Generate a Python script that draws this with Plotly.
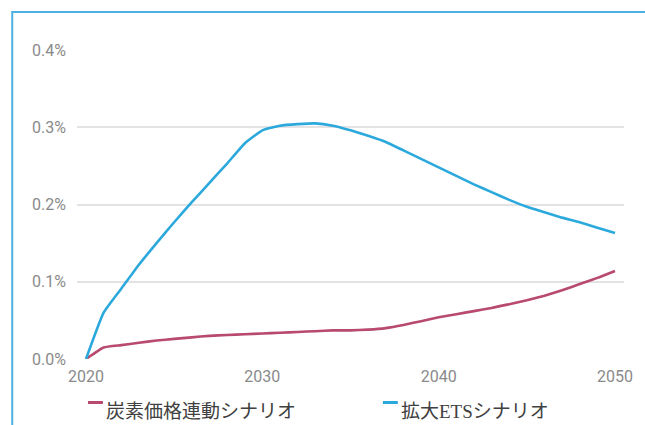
import plotly.graph_objects as go

# Annual series, 2020-2050 (percent)
years = list(range(2020, 2051))

carbon_price_linked = [
    0.000, 0.015, 0.018, 0.021, 0.024, 0.026, 0.028, 0.030, 0.031, 0.032,
    0.033, 0.034, 0.035, 0.036, 0.037, 0.037, 0.038, 0.040, 0.044, 0.049,
    0.054, 0.058, 0.062, 0.066, 0.071, 0.076, 0.082, 0.089, 0.097, 0.105,
    0.114,
]

expanded_ets = [
    0.000, 0.060, 0.091, 0.122, 0.150, 0.177, 0.203, 0.228, 0.253, 0.279,
    0.296, 0.302, 0.304, 0.305, 0.302, 0.296, 0.289, 0.281, 0.270, 0.259,
    0.248, 0.237, 0.226, 0.216, 0.206, 0.197, 0.190, 0.183, 0.177, 0.170,
    0.163,
]

series_names = ["炭素価格連動シナリオ", "拡大ETSシナリオ"]
series_colors = ["#b8496f", "#2ca9dc"]

y_ticks = [0.0, 0.1, 0.2, 0.3, 0.4]
y_tick_labels = ["0.0%", "0.1%", "0.2%", "0.3%", "0.4%"]
x_ticks = [2020, 2030, 2040, 2050]

fig = go.Figure()
for name, color, values in zip(series_names, series_colors,
                               [carbon_price_linked, expanded_ets]):
    fig.add_trace(go.Scatter(
        x=years, y=values, name=name, mode="lines",
        line=dict(color=color, width=2.6, shape="spline", smoothing=0.4),
        cliponaxis=False, showlegend=False,
    ))

W, H = 645, 425
L, R, T, B = 77, 19, 50, 66
pw, ph = W - L - R, H - T - B


def px_x(x):
    return (x - L) / pw


def px_y(y):
    return (H - B - y) / ph


shapes = [
    # outer frame (opens off the right and bottom edges)
    dict(type="rect", xref="paper", yref="paper",
         x0=px_x(12), x1=px_x(W + 20), y0=px_y(H + 20), y1=px_y(12),
         line=dict(color="#4cb1e1", width=2), fillcolor="rgba(0,0,0,0)",
         layer="above"),
]
annotations = []

# legend row beneath the axis
legend_items = [(88, series_names[0], series_colors[0]),
                (384, series_names[1], series_colors[1])]
for x0, name, color in legend_items:
    shapes.append(dict(type="line", xref="paper", yref="paper",
                       x0=px_x(x0), x1=px_x(x0 + 15),
                       y0=px_y(402.5), y1=px_y(402.5),
                       line=dict(color=color, width=3)))
    annotations.append(dict(
        text=name, xref="paper", yref="paper",
        x=px_x(x0 + 16), y=px_y(411), xanchor="left", yanchor="middle",
        showarrow=False,
        font=dict(family="Liberation Serif, Noto Sans CJK JP", size=19,
                  color="#404040"),
    ))

fig.update_layout(
    width=W, height=H,
    margin=dict(l=L, r=R, t=T, b=B, pad=0),
    paper_bgcolor="white", plot_bgcolor="white",
    font=dict(family="Roboto, Open Sans, sans-serif", size=16, color="#8a8a8a"),
    shapes=shapes, annotations=annotations,
    showlegend=False,
)
fig.update_xaxes(
    range=[2019.49, 2050.51], tickvals=x_ticks, ticktext=[str(v) for v in x_ticks],
    showgrid=False, zeroline=False, showline=False, ticks="",
    ticklabelstandoff=6, fixedrange=True,
)
fig.update_yaxes(
    range=[0, 0.4], tickvals=y_ticks, ticktext=y_tick_labels,
    showgrid=True, gridcolor="#e3e3e3", gridwidth=1.5,
    zeroline=False, showline=False, ticks="",
    ticklabelstandoff=10, fixedrange=True,
)

fig.write_html("out.html", config={"displayModeBar": False})
